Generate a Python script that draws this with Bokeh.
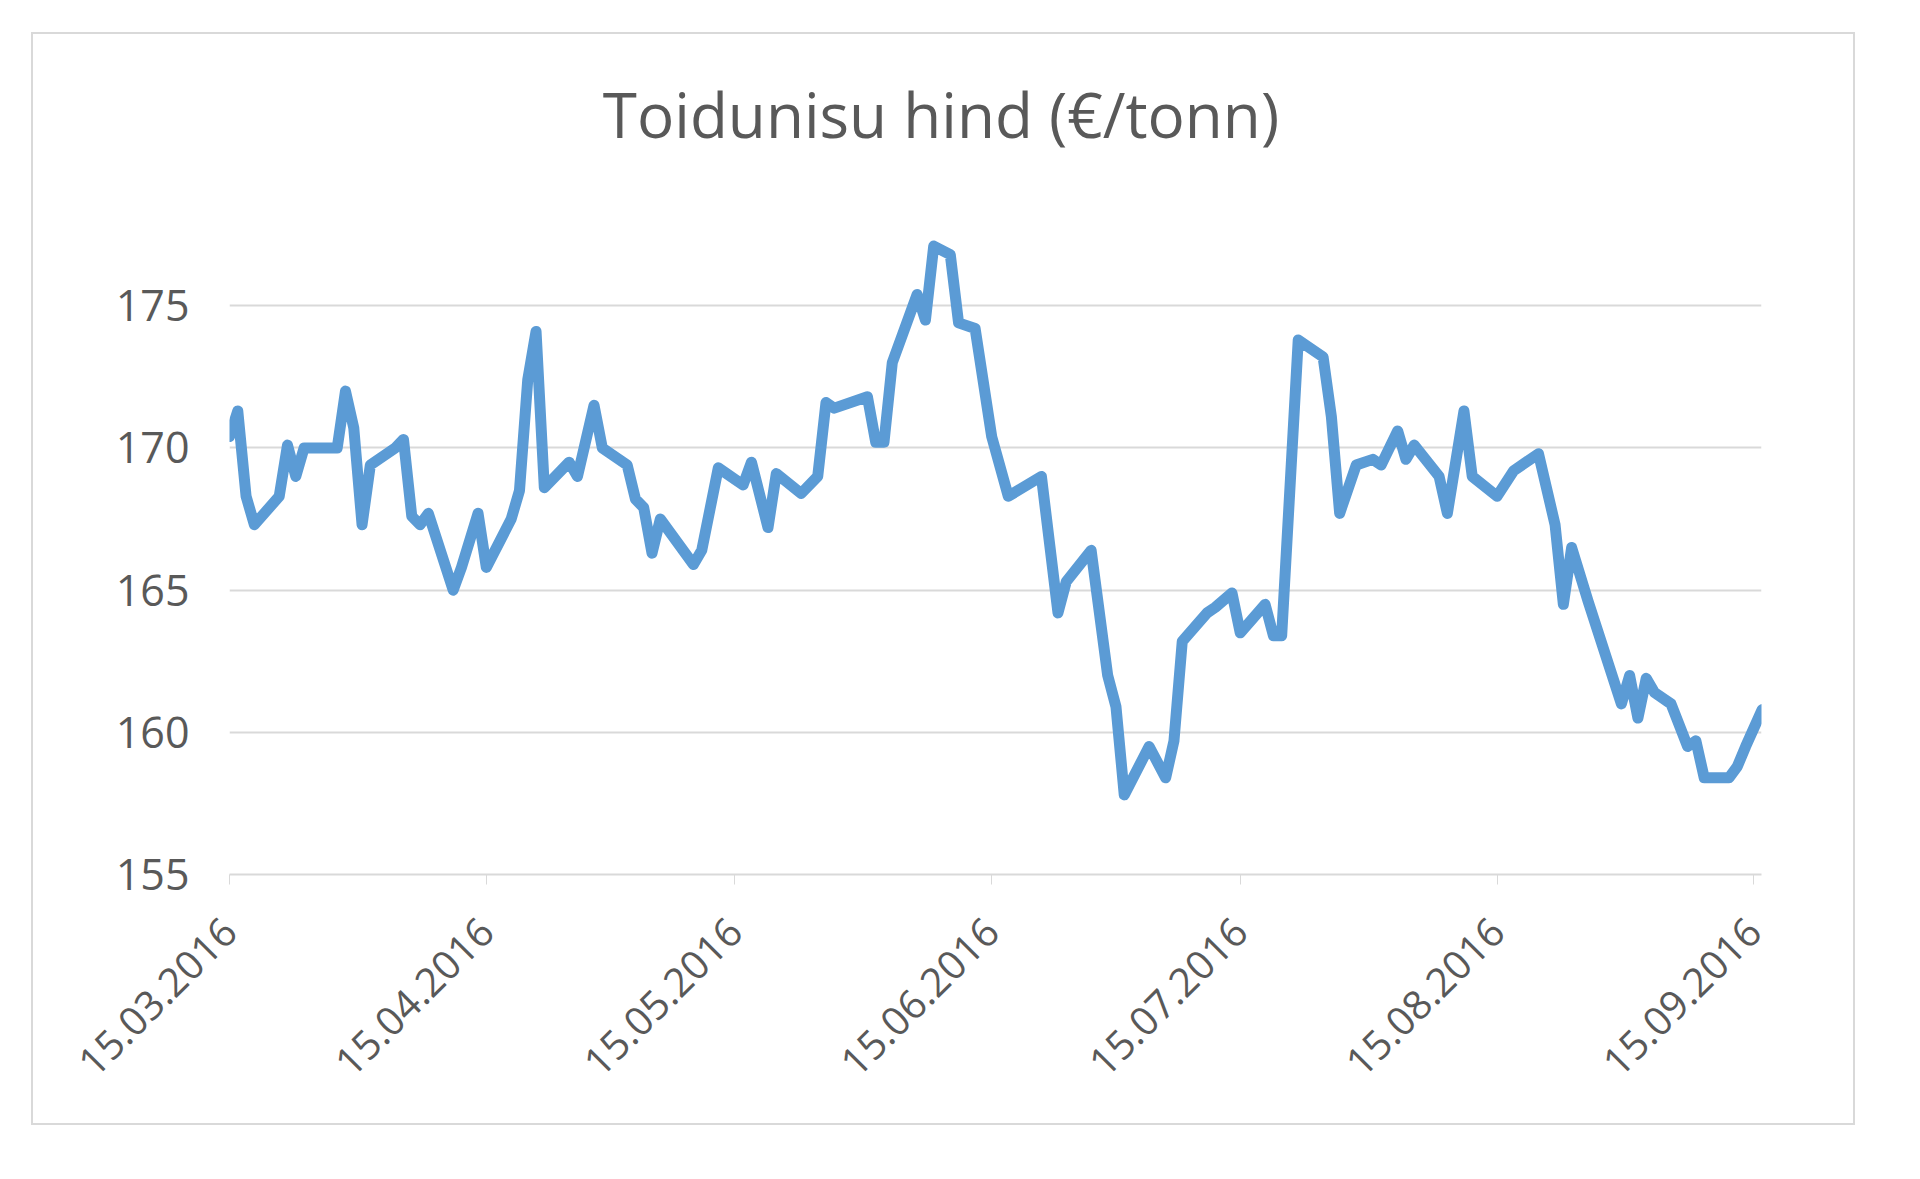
import pandas as pd
from bokeh.plotting import figure
from bokeh.models import Range1d, FixedTicker, DatetimeTickFormatter, ColumnDataSource, Label
from bokeh.embed import file_html
from bokeh.resources import INLINE
import math

title_text = "Toidunisu hind (€/tonn)"

dates = [
    "2016-03-15", "2016-03-16", "2016-03-17", "2016-03-18", "2016-03-21", "2016-03-22",
    "2016-03-23", "2016-03-24", "2016-03-28", "2016-03-29", "2016-03-30", "2016-03-31",
    "2016-04-01", "2016-04-04", "2016-04-05", "2016-04-06", "2016-04-07", "2016-04-08",
    "2016-04-11", "2016-04-12", "2016-04-14", "2016-04-15", "2016-04-18", "2016-04-19",
    "2016-04-20", "2016-04-21", "2016-04-22", "2016-04-25", "2016-04-26", "2016-04-28",
    "2016-04-29", "2016-05-02", "2016-05-03", "2016-05-04", "2016-05-05", "2016-05-06",
    "2016-05-10", "2016-05-11", "2016-05-13", "2016-05-16", "2016-05-17", "2016-05-19",
    "2016-05-20", "2016-05-23", "2016-05-25", "2016-05-26", "2016-05-27", "2016-05-31",
    "2016-06-01", "2016-06-02", "2016-06-03", "2016-06-06", "2016-06-07", "2016-06-08",
    "2016-06-10", "2016-06-11", "2016-06-13", "2016-06-15", "2016-06-17", "2016-06-21",
    "2016-06-22", "2016-06-23", "2016-06-24", "2016-06-27", "2016-06-29", "2016-06-30",
    "2016-07-01", "2016-07-04", "2016-07-06", "2016-07-07", "2016-07-08", "2016-07-11",
    "2016-07-12", "2016-07-14", "2016-07-15", "2016-07-18", "2016-07-19", "2016-07-20",
    "2016-07-22", "2016-07-25", "2016-07-26", "2016-07-27", "2016-07-29", "2016-07-31",
    "2016-08-01", "2016-08-03", "2016-08-04", "2016-08-05", "2016-08-08", "2016-08-09",
    "2016-08-11", "2016-08-12", "2016-08-15", "2016-08-17", "2016-08-20", "2016-08-22",
    "2016-08-23", "2016-08-24", "2016-08-26", "2016-08-30", "2016-08-31", "2016-09-01",
    "2016-09-02", "2016-09-03", "2016-09-05", "2016-09-07", "2016-09-08", "2016-09-09",
    "2016-09-12", "2016-09-13", "2016-09-14", "2016-09-16",
]

prices = [
    170.4, 171.3, 168.3, 167.3, 168.3, 170.1,
    169.0, 170.0, 170.0, 172.0, 170.7, 167.3,
    169.4, 170.0, 170.3, 167.6, 167.3, 167.7,
    165.0, 165.8, 167.7, 165.8, 167.5, 168.5,
    172.4, 174.1, 168.6, 169.5, 169.0, 171.5,
    170.0, 169.4, 168.2, 167.9, 166.3, 167.5,
    165.9, 166.4, 169.3, 168.7, 169.5, 167.2,
    169.1, 168.4, 169.0, 171.6, 171.4, 171.8,
    170.2, 170.2, 173.0, 175.4, 174.5, 177.1,
    176.8, 174.4, 174.2, 170.4, 168.3, 169.0,
    166.6, 164.2, 165.3, 166.4, 162.0, 160.9,
    157.8, 159.5, 158.4, 159.7, 163.2, 164.2,
    164.4, 164.9, 163.5, 164.5, 163.4, 163.4,
    173.8, 173.2, 171.1, 167.7, 169.4, 169.6,
    169.4, 170.6, 169.6, 170.1, 169.0, 167.7,
    171.3, 169.0, 168.3, 169.2, 169.8, 167.3,
    164.5, 166.5, 164.6, 161.0, 162.0, 160.5,
    161.9, 161.4, 161.0, 159.5, 159.7, 158.4,
    158.4, 158.8, 159.5, 160.8,
]

x_tick_dates = ["2016-03-15", "2016-04-15", "2016-05-15", "2016-06-15",
                "2016-07-15", "2016-08-15", "2016-09-15"]
y_ticks = [155, 160, 165, 170, 175]

x = pd.to_datetime(dates)
src = ColumnDataSource(dict(x=x, y=prices))

start = pd.Timestamp("2016-03-15")
end = pd.Timestamp("2016-09-15") + pd.Timedelta(hours=22)

TXT = "#595959"
GRID = "#d9d9d9"

p = figure(width=1820, height=1089, x_axis_type="datetime",
           x_range=Range1d(start, end), y_range=Range1d(155, 184.33),
           output_backend="svg", toolbar_location=None,
           min_border_left=196, min_border_right=92,
           min_border_top=6, min_border_bottom=249,
           margin=(34, 0, 0, 33),
           background_fill_color="white", border_fill_color="white",
           styles={"outline": "2px solid #d9d9d9"})
p.outline_line_color = None
p.title.visible = False
p.above = []

# chart title, placed inside the (invisible) frame area above the grid
p.add_layout(Label(x=start + pd.Timedelta(days=85.88), y=181.75,
                   text=title_text, text_align="center",
                   text_baseline="alphabetic",
                   text_font="Open Sans", text_font_size="62px",
                   text_color=TXT))

p.line("x", "y", source=src, line_width=11, line_color="#5B9BD5",
       line_join="round", line_cap="round")

# x axis
tick_ms = [pd.Timestamp(d).value / 1e6 for d in x_tick_dates]
p.xaxis.ticker = FixedTicker(ticks=tick_ms)
fmt = "%d.%m.%Y"
p.xaxis.formatter = DatetimeTickFormatter(
    milliseconds=fmt, seconds=fmt, minsec=fmt, minutes=fmt, hourmin=fmt,
    hours=fmt, days=fmt, months=fmt, years=fmt)
p.xaxis.major_label_orientation = math.pi / 4
p.xaxis.axis_line_color = GRID
p.xaxis.axis_line_width = 2
p.xaxis.major_tick_line_color = GRID
p.xaxis.major_tick_line_width = 1
p.xaxis.major_tick_out = 10
p.xaxis.major_tick_in = 0
p.xaxis.minor_tick_line_color = None
p.xaxis.major_label_standoff = 40
p.xaxis.major_label_text_font = "Open Sans"
p.xaxis.major_label_text_font_size = "40px"
p.xaxis.major_label_text_color = TXT
p.xgrid.grid_line_color = None

# y axis
p.yaxis.ticker = FixedTicker(ticks=y_ticks)
p.yaxis.axis_line_color = None
p.yaxis.major_tick_line_color = None
p.yaxis.minor_tick_line_color = None
p.yaxis.major_label_standoff = 34
p.yaxis.major_label_text_font = "Open Sans"
p.yaxis.major_label_text_font_size = "43px"
p.yaxis.major_label_text_color = TXT
p.ygrid.grid_line_color = GRID
p.ygrid.grid_line_width = 2

open("out.html", "w").write(file_html(p, INLINE))
